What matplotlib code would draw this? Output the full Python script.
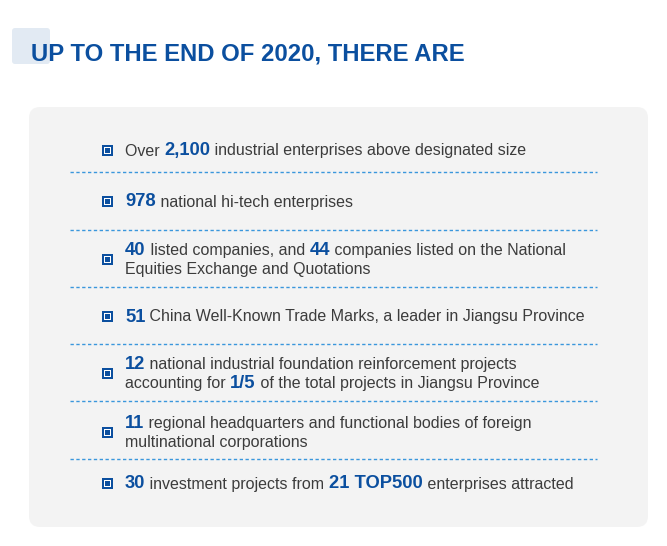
import matplotlib
matplotlib.use("Agg")
import matplotlib.pyplot as plt
from matplotlib.patches import FancyBboxPatch, Rectangle

W, H = 667, 546
BLUE = "#0b4f9f"
GREY_TXT = "#3c3c3c"
DASH = "#3a97dc"

title = "UP TO THE END OF 2020, THERE ARE"

# each item: list of lines, each line is a list of (text, highlighted)
items = [
    [[("Over ", 0), ("2,100", 1), (" industrial enterprises above designated size", 0)]],
    [[("978", 1), (" national hi-tech enterprises", 0)]],
    [[("40", 1), (" listed companies, and ", 0), ("44", 1), (" companies listed on the National", 0)],
     [("Equities Exchange and Quotations", 0)]],
    [[("51", 1), (" China Well-Known Trade Marks, a leader in Jiangsu Province", 0)]],
    [[("12", 1), (" national industrial foundation reinforcement projects", 0)],
     [("accounting for ", 0), ("1/5", 1), (" of the total projects in Jiangsu Province", 0)]],
    [[("11", 1), (" regional headquarters and functional bodies of foreign", 0)],
     [("multinational corporations", 0)]],
    [[("30", 1), (" investment projects from ", 0), ("21 TOP500", 1), (" enterprises attracted", 0)]],
]
item_y = [150, 201, 259, 316, 373, 432, 483]
sep_y = [172, 230, 287, 344, 401, 459]

fig = plt.figure(figsize=(W / 100, H / 100), dpi=100)
ax = fig.add_axes([0, 0, 1, 1])
ax.set_xlim(0, W)
ax.set_ylim(H, 0)
ax.axis("off")

# header decoration + title
ax.add_patch(FancyBboxPatch((12, 28), 38, 36, boxstyle="round,pad=0,rounding_size=3",
                            fc="#e2eaf3", ec="none", zorder=1))
ax.text(31, 54, title, fontsize=17.2, fontweight="bold", color=BLUE,
        family="Liberation Sans", va="center", ha="left", zorder=2)

# grey panel
ax.add_patch(FancyBboxPatch((29, 107), 619, 420, boxstyle="round,pad=0,rounding_size=11",
                            fc="#f3f3f3", ec="none", zorder=1))

for y in sep_y:
    ax.plot([70, 597], [y, y], color=DASH, lw=1.0, ls=(0, (2.4, 1.8)), zorder=2)

fig.canvas.draw()
rend = fig.canvas.get_renderer()

line_gap = 19
for lines, yc in zip(items, item_y):
    # bullet
    bx, by = 102, yc + 0.5
    ax.add_patch(Rectangle((bx, by - 5.3), 10.6, 10.6, fc=BLUE, ec="none", zorder=3))
    ax.add_patch(Rectangle((bx + 1.6, by - 3.7), 7.4, 7.4, fc="white", ec="none", zorder=4))
    ax.add_patch(Rectangle((bx + 3.1, by - 2.2), 4.4, 4.4, fc=BLUE, ec="none", zorder=5))
    n = len(lines)
    for i, segs in enumerate(lines):
        ly = yc + (i - (n - 1) / 2) * line_gap
        x = 125
        for txt, hl in segs:
            t = ax.text(x, ly + 5.5, txt, fontsize=13.2 if hl else 11.5,
                        fontweight="bold" if hl else "normal",
                        color=BLUE if hl else GREY_TXT, family="Liberation Sans",
                        va="baseline", ha="left", zorder=3)
            bb = t.get_window_extent(renderer=rend)
            x += bb.width

fig.savefig("out.png", dpi=100)
